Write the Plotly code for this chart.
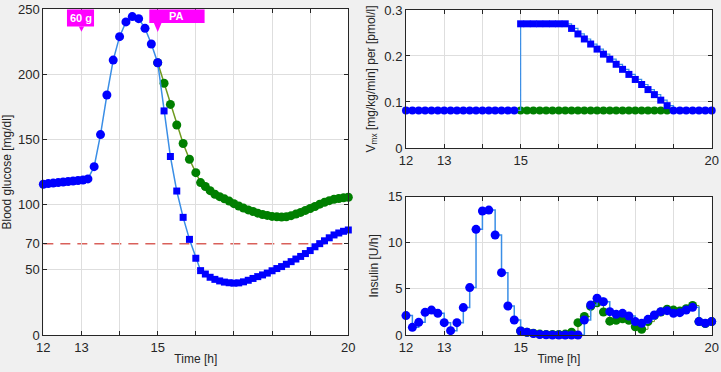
import plotly.graph_objects as go

# ---------------- data ----------------
# Blood glucose, common part (before physical activity)
t_pre = [12.0, 12.13, 12.26, 12.39, 12.52, 12.65, 12.78, 12.91, 13.04, 13.17,
         13.333, 13.5, 13.667, 13.833, 14.0, 14.167, 14.333, 14.5, 14.667, 14.833, 15.0]
g_pre = [115.7, 116.2, 116.6, 117.0, 117.4, 117.8, 118.2, 118.6, 119.0, 119.8,
         129.2, 153.8, 184.2, 211.0, 229.0, 240.3, 244.4, 242.8, 235.4, 223.4, 209.0]

# Time after start of PA
t_post = [15.167, 15.333, 15.5, 15.667, 15.833, 16.0, 16.125,
          16.25, 16.375, 16.5, 16.625, 16.75, 16.875, 17.0, 17.125, 17.25, 17.375,
          17.5, 17.625, 17.75, 17.875, 18.0, 18.125, 18.25, 18.375, 18.5, 18.625,
          18.75, 18.875, 19.0, 19.125, 19.25, 19.375, 19.5, 19.625, 19.75, 19.875, 20.0]
g_blue_post = [172.0, 137.0, 110.5, 90.3, 73.4, 58.9, 49.4,
               46.8, 44.3, 42.7, 41.5, 40.6, 40.1, 39.8, 40.0, 40.8, 42.0,
               43.4, 44.8, 46.1, 47.5, 49.3, 51.0, 52.5, 54.3, 56.3, 58.3,
               60.3, 62.5, 64.8, 67.7, 70.1, 72.3, 74.6, 76.8, 78.3, 79.6, 80.6]
g_green_post = [193.2, 177.0, 161.2, 147.0, 134.9, 124.6, 117.0,
                114.0, 110.8, 108.0, 106.2, 104.5, 102.8, 100.8, 99.0, 97.4, 96.0,
                94.8, 93.5, 92.5, 91.8, 91.0, 90.7, 90.6, 90.8, 91.6, 92.8,
                94.1, 95.6, 97.1, 98.6, 100.4, 101.8, 103.1, 104.2, 104.8, 105.3, 105.7]

hypo_threshold = 70

# 10-minute grid for Vmx and insulin
t_grid = [12.0, 12.167, 12.333, 12.5, 12.667, 12.833, 13.0, 13.167, 13.333, 13.5,
          13.667, 13.833, 14.0, 14.167, 14.333, 14.5, 14.667, 14.833, 15.0, 15.167,
          15.333, 15.5, 15.667, 15.833, 16.0, 16.167, 16.333, 16.5, 16.667, 16.833,
          17.0, 17.167, 17.333, 17.5, 17.667, 17.833, 18.0, 18.167, 18.333, 18.5,
          18.667, 18.833, 19.0, 19.167, 19.333, 19.5, 19.667, 19.833, 20.0]

vmx_blue = [0.0817] * 18 + [0.27, 0.27, 0.27, 0.27, 0.27, 0.27, 0.27, 0.27,
            0.26, 0.248, 0.237, 0.226, 0.215, 0.204, 0.193, 0.182, 0.171, 0.16,
            0.149, 0.138, 0.127, 0.116, 0.104, 0.092] + [0.0817] * 7
vmx_green = [0.0817] * 24   # from 15.0 to 18.833

ins_blue = [2.1, 0.83, 1.37, 2.46, 2.7, 2.35, 1.34, 0.47, 1.34, 2.97,
            5.14, 11.46, 13.45, 13.55, 10.85, 6.76, 3.15, 1.63, 0.43, 0.3,
            0.15, 0.05, 0.02, 0.0, 0.0, 0.0, 0.0, 0.0, 1.63, 3.25,
            3.98, 3.6, 2.53, 2.24, 2.35, 2.06, 1.45, 1.27, 1.7, 2.17,
            2.53, 2.64, 2.35, 2.42, 2.71, 3.0, 1.45, 1.27, 1.45]
ins_green = [0.43, 0.3, 0.2, 0.1, 0.05, 0.05, 0.05, 0.1, 0.3, 1.34,
             2.0, 3.1, 3.5, 2.5, 1.5, 1.6, 1.75, 1.6, 0.9, 0.62,
             1.45, 2.1, 2.5, 2.8, 2.7, 2.6, 2.85, 3.2, 1.45, 1.25, 1.45]

x_ticks = [12, 13, 15, 20]
x_grid = [12, 13, 14, 15, 16, 17, 18, 19, 20]
g_ticks = [0, 50, 70, 100, 150, 200, 250]
g_grid = [0, 50, 100, 150, 200, 250]
v_ticks = [0, 0.1, 0.2, 0.3]
i_ticks = [0, 5, 10, 15]

# ---------------- styles ----------------
BLUE = "#0000ff"
GREEN = "#007f00"
LBLUE = "#3a8ee6"
OLIVE = "#6f9a1f"
AX = "#262626"
GRID = "#dedede"
MAG = "#ff00ff"
FONT = "Liberation Sans, Arial, sans-serif"


def mk(color, size, symbol="circle"):
    return dict(color=color, size=size, symbol=symbol, opacity=1, line=dict(width=0))


fig = go.Figure()

# Glucose
fig.add_trace(go.Scatter(x=[t_pre[-1]] + t_post, y=[g_pre[-1]] + g_green_post,
                         mode="lines+markers", line=dict(color=OLIVE, width=1.5),
                         marker=mk(GREEN, 9),
                         cliponaxis=False, xaxis="x", yaxis="y", showlegend=False))
fig.add_trace(go.Scatter(x=t_pre + t_post, y=g_pre + g_blue_post,
                         mode="lines+markers", line=dict(color=LBLUE, width=1.5),
                         marker=mk(BLUE, [9] * len(t_pre) + [7] * len(t_post),
                                   ["circle"] * len(t_pre) + ["square"] * len(t_post)),
                         cliponaxis=False, xaxis="x", yaxis="y", showlegend=False))

# Vmx
n_pa = 24
fig.add_trace(go.Scatter(x=t_grid[18:18 + n_pa], y=vmx_green, mode="lines+markers",
                         line=dict(color=OLIVE, width=1, shape="hv"),
                         marker=mk(GREEN, 8),
                         cliponaxis=False, xaxis="x2", yaxis="y2", showlegend=False))
sym_v = ["circle"] * 18 + ["square"] * n_pa + ["circle"] * 7
fig.add_trace(go.Scatter(x=t_grid, y=vmx_blue, mode="lines+markers",
                         line=dict(color=LBLUE, width=1.2, shape="hv"),
                         marker=mk(BLUE, [8] * 18 + [7] * n_pa + [8] * 7, sym_v),
                         cliponaxis=False, xaxis="x2", yaxis="y2", showlegend=False))

# Insulin
fig.add_trace(go.Scatter(x=t_grid[18:], y=ins_green, mode="lines+markers",
                         line=dict(color=OLIVE, width=1, shape="hv"),
                         marker=mk(GREEN, 9),
                         cliponaxis=False, xaxis="x3", yaxis="y3", showlegend=False))
fig.add_trace(go.Scatter(x=t_grid, y=ins_blue, mode="lines+markers",
                         line=dict(color=LBLUE, width=1.5, shape="hv"),
                         marker=mk(BLUE, 9),
                         cliponaxis=False, xaxis="x3", yaxis="y3", showlegend=False))

# Hypo threshold line
fig.add_shape(type="line", xref="x", yref="y", x0=12, x1=20, y0=hypo_threshold, y1=hypo_threshold,
              line=dict(color="#d9605a", width=1.5, dash="10px,7px"), layer="below")


# Event markers (meal / PA)
def event(x_left, x_right, x_tip, y_bottom, y_tip, half, text):
    fig.add_shape(type="rect", xref="x", yref="y", x0=x_left, x1=x_right, y0=y_bottom, y1=250,
                  fillcolor=MAG, line=dict(width=0))
    fig.add_shape(type="path", xref="x", yref="y",
                  path=f"M {x_tip - half},{y_bottom} L {x_tip + half},{y_bottom} L {x_tip},{y_tip} Z",
                  fillcolor=MAG, line=dict(width=0))
    fig.add_annotation(x=(x_left + x_right) / 2, y=(y_bottom + 250) / 2, xref="x", yref="y",
                       text=f"<b>{text}</b>", showarrow=False,
                       font=dict(color="white", size=11, family=FONT))


event(12.62, 13.33, 13, 236.8, 232.8, 0.07, "60 g")
event(14.78, 16.23, 15, 239.5, 232.5, 0.1, "PA")


def xax(domain, anchor, title=None):
    d = dict(domain=domain, anchor=anchor, range=[12, 20], tickvals=x_ticks,
             ticktext=[str(v) for v in x_ticks], showgrid=False, zeroline=False,
             ticks="inside", ticklen=4, tickcolor=AX, showline=True, linecolor=AX,
             linewidth=1, mirror="ticks", automargin=False, ticklabeloverflow="allow",
             tickfont=dict(size=13, color=AX, family=FONT),
             minor=dict(tickvals=x_grid, showgrid=True, gridcolor=GRID, gridwidth=1,
                        ticks="inside", ticklen=4, tickcolor=AX))
    if title:
        d["title"] = dict(text=title, font=dict(size=12, color=AX, family=FONT), standoff=1)
    return d


def yax(domain, anchor, rng, tv, tt, grid, title, size=12):
    return dict(domain=domain, anchor=anchor, range=rng, tickvals=tv, ticktext=tt,
                showgrid=False, zeroline=False, ticks="inside", ticklen=4, tickcolor=AX,
                showline=True, linecolor=AX, linewidth=1, mirror="ticks", automargin=False,
                ticklabeloverflow="allow",
                tickfont=dict(size=13, color=AX, family=FONT),
                title=dict(text=title, font=dict(size=size, color=AX, family=FONT), standoff=6),
                minor=dict(tickvals=grid, showgrid=True, gridcolor=GRID, gridwidth=1,
                           ticks="inside", ticklen=4, tickcolor=AX))


fig.update_layout(
    width=721, height=372,
    margin=dict(l=0, r=0, t=0, b=0, autoexpand=False),
    paper_bgcolor="#f0f0f0", plot_bgcolor="white",
    font=dict(family=FONT, color=AX),
    hovermode=False,
    xaxis=xax([0.0601, 0.4831], "y", "Time [h]"),
    yaxis=yax([0.0995, 0.975], "x", [0, 250], g_ticks, [str(v) for v in g_ticks], g_grid,
              "Blood glucose [mg/dl]"),
    xaxis2=xax([0.5631, 0.9871], "y2"),
    yaxis2=yax([0.6022, 0.9731], "x2", [0, 0.3], v_ticks, ["0", "0.1", "0.2", "0.3"], v_ticks,
               "V<sub>mx</sub> [mg/kg/min] per [pmol/l]", 12),
    xaxis3=xax([0.5631, 0.9871], "y3", "Time [h]"),
    yaxis3=yax([0.0995, 0.4712], "x3", [0, 15], i_ticks, [str(v) for v in i_ticks], i_ticks,
               "Insulin [U/h]"),
)

fig.write_html("out.html", config={"displayModeBar": False, "staticPlot": True},
               post_script="document.body.style.margin='0';document.body.style.overflow='hidden';")
